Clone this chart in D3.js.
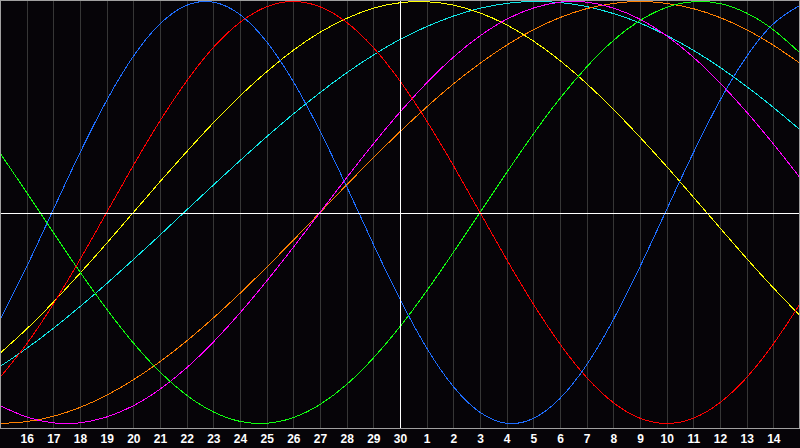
<!DOCTYPE html>
<html>
<head>
<meta charset="utf-8">
<script src="https://cdn.jsdelivr.net/npm/d3@7/dist/d3.min.js"></script>
<style>
  html, body { margin: 0; padding: 0; background: #060408; }
  svg { display: block; }
</style>
</head>
<body>
<svg id="chart" width="800" height="448"></svg>
<script>
// Day index 0..30 (one column per day); tick labels for days 1..29
const days = d3.range(0, 31);
const tickLabels = ["16","17","18","19","20","21","22","23","24","25","26","27","28","29","30",
                    "1","2","3","4","5","6","7","8","9","10","11","12","13","14"];
const todayIndex = 15;

// Series values (daily samples, -1..1)
const physical = [-0.508,-0.257,0.014,0.283,0.531,0.740,0.894,0.982,0.997,0.938,0.809,0.620,0.386,0.123,-0.150,-0.411,-0.642,-0.825,-0.947,-0.999,-0.976,-0.881,-0.722,-0.508,-0.257,0.014,0.283,0.531,0.740,0.894,0.982];
const emotional = [-0.782,-0.623,-0.434,-0.223,0,0.223,0.434,0.623,0.782,0.901,0.975,1,0.975,0.901,0.782,0.623,0.434,0.223,0,-0.223,-0.434,-0.623,-0.782,-0.901,-0.975,-1,-0.975,-0.901,-0.782,-0.623,-0.434];
const intellectual = [0.282,0.095,-0.095,-0.282,-0.458,-0.618,-0.756,-0.866,-0.945,-0.990,-0.999,-0.972,-0.910,-0.815,-0.690,-0.541,-0.372,-0.189,0,0.189,0.372,0.541,0.690,0.815,0.910,0.972,0.999,0.990,0.945,0.866,0.756];
const intuitive = [-0.916,-0.969,-0.997,-0.997,-0.969,-0.916,-0.837,-0.736,-0.614,-0.476,-0.325,-0.165,0,0.165,0.325,0.476,0.614,0.736,0.837,0.916,0.969,0.997,0.997,0.969,0.916,0.837,0.736,0.614,0.476,0.325,0.165];
const aesthetic = [-0.667,-0.552,-0.425,-0.288,-0.146,0,0.146,0.288,0.425,0.552,0.667,0.769,0.854,0.920,0.968,0.994,0.999,0.983,0.946,0.889,0.813,0.720,0.611,0.489,0.357,0.218,0.073,-0.073,-0.218,-0.357,-0.489];
const awareness = [-1,-0.991,-0.966,-0.924,-0.866,-0.793,-0.707,-0.609,-0.5,-0.383,-0.259,-0.131,0,0.131,0.259,0.383,0.5,0.609,0.707,0.793,0.866,0.924,0.966,0.991,1,0.991,0.966,0.924,0.866,0.793,0.707];
const spiritual = [-0.730,-0.644,-0.549,-0.446,-0.337,-0.223,-0.107,0.012,0.130,0.246,0.359,0.467,0.568,0.662,0.746,0.820,0.881,0.931,0.968,0.991,1.000,0.995,0.976,0.943,0.898,0.839,0.769,0.688,0.597,0.498,0.392];

const seriesNames = ["spiritual","aesthetic","awareness","intuitive","intellectual","emotional","physical"];
const seriesValues = [spiritual, aesthetic, awareness, intuitive, intellectual, emotional, physical];
const seriesColors = ["#10e8e8","#ffff00","#ff8000","#ff00ff","#10ff10","#ff0000","#1e6eff"];

const W = 800, plotBottom = 428;
const svg = d3.select("#chart");

const x = d3.scaleLinear().domain([0, 30]).range([0, W]);
const y = d3.scaleLinear().domain([-1, 1]).range([423.5, 1.5]);

svg.append("rect").attr("x", 0).attr("y", 0).attr("width", 800).attr("height", 448).attr("fill", "#060408");

// vertical day gridlines
const gridDays = d3.range(1, 30).filter(d => d !== todayIndex);
svg.append("g").selectAll("line").data(gridDays).join("line")
  .attr("x1", d => Math.round(x(d)) + 0.5).attr("x2", d => Math.round(x(d)) + 0.5)
  .attr("y1", 1).attr("y2", plotBottom)
  .attr("stroke", "#363636").attr("stroke-width", 1)
  .attr("shape-rendering", "crispEdges");

// curves
const line = d3.line()
  .x((v, i) => x(days[i]))
  .y(v => y(v))
  .curve(d3.curveNatural);

svg.append("g").selectAll("path").data(seriesValues).join("path")
  .attr("d", d => line(d))
  .attr("fill", "none")
  .attr("stroke", (d, i) => seriesColors[i])
  .attr("stroke-width", 1)
  .attr("shape-rendering", "crispEdges");

// today line and zero line
svg.append("line")
  .attr("x1", Math.round(x(todayIndex)) + 0.5).attr("x2", Math.round(x(todayIndex)) + 0.5)
  .attr("y1", 1).attr("y2", plotBottom)
  .attr("stroke", "#ffffff").attr("shape-rendering", "crispEdges");
svg.append("line")
  .attr("x1", 0).attr("x2", W)
  .attr("y1", Math.round(y(0)) + 0.5).attr("y2", Math.round(y(0)) + 0.5)
  .attr("stroke", "#ffffff").attr("shape-rendering", "crispEdges");

// border
svg.append("rect")
  .attr("x", 0.5).attr("y", 0.5).attr("width", 799).attr("height", plotBottom)
  .attr("fill", "none").attr("stroke", "#a0a0a0").attr("shape-rendering", "crispEdges");

// axis labels
const axis = d3.axisBottom(x)
  .tickValues(d3.range(1, 30))
  .tickFormat(d => tickLabels[d - 1])
  .tickSize(0)
  .tickPadding(6);
const ax = svg.append("g").attr("transform", `translate(0,${plotBottom})`).call(axis);
ax.select(".domain").remove();
ax.selectAll("text")
  .attr("fill", "#ffffff")
  .style("font-family", "'Liberation Sans', Arial, sans-serif")
  .style("font-weight", "bold")
  .style("font-size", "12px");
</script>
</body>
</html>
